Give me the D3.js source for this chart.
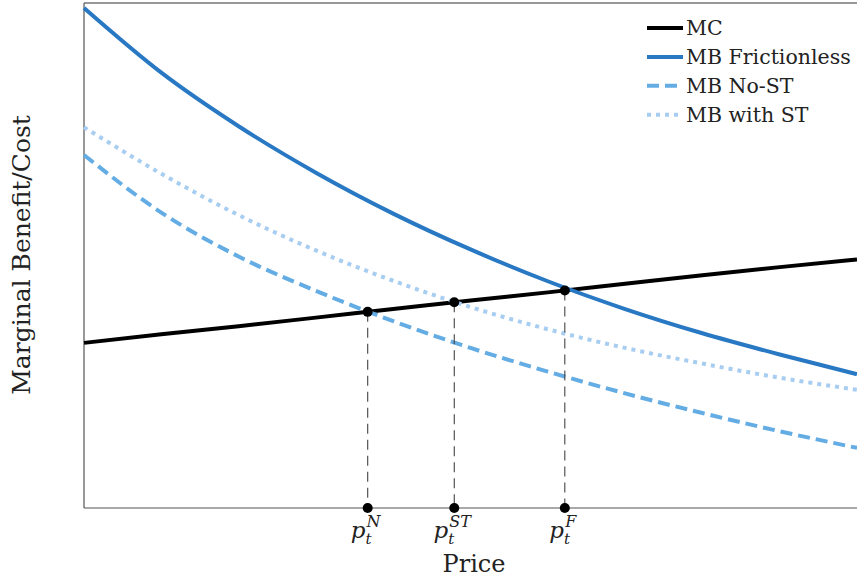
<!DOCTYPE html>
<html>
<head>
<meta charset="utf-8">
<script src="https://cdn.jsdelivr.net/npm/d3@7"></script>
<style>
  body { margin: 0; background: #fff; }
  svg { display: block; overflow: visible; }
  text { font-family: "DejaVu Serif", "Liberation Serif", serif; fill: #222; }
</style>
</head>
<body>
<svg width="857" height="581"></svg>
<script>
const svg = d3.select("svg");

// price grid (x) and curve values
const prices = [0, 1, 2, 3, 4, 5, 6, 7, 8, 9, 10];
const mc = [3.27, 3.44, 3.60, 3.77, 3.94, 4.11, 4.27, 4.44, 4.61, 4.77, 4.92];
const mbFrictionless = [9.90, 8.62, 7.56, 6.64, 5.83, 5.12, 4.49, 3.94, 3.46, 3.04, 2.65];
const mbNoST = [6.99, 5.85, 4.98, 4.30, 3.70, 3.17, 2.70, 2.27, 1.88, 1.52, 1.19];
const mbWithST = [7.54, 6.62, 5.80, 5.10, 4.50, 3.98, 3.54, 3.17, 2.86, 2.58, 2.34];

// equilibrium prices and their tick labels
const eqPrices = [3.67, 4.79, 6.22];
const eqLabels = ["N", "ST", "F"];

const series = [
    { name: "MC", values: mc, color: "#000000", dash: null },
    { name: "MB Frictionless", values: mbFrictionless, color: "#2878c3", dash: null },
    { name: "MB No-ST", values: mbNoST, color: "#64ace4", dash: "12,6" },
    { name: "MB with ST", values: mbWithST, color: "#a7cdf1", dash: "4,5" }
];

const margin = { top: 3, right: 0, bottom: 73, left: 84 };
const width = 857, height = 581;
const innerWidth = width - margin.left - margin.right;
const innerHeight = height - margin.top - margin.bottom;

const xScale = d3.scaleLinear().domain([0, 10]).range([0, innerWidth]);
const yScale = d3.scaleLinear().domain([0, 10]).range([innerHeight, 0]);

const g = svg.append("g")
    .attr("transform", `translate(${margin.left}, ${margin.top})`);

// axes box (left, top, bottom)
g.append("line").attr("x1", 0).attr("x2", innerWidth).attr("y1", 0).attr("y2", 0)
    .attr("stroke", "#333").attr("stroke-width", 1.2);
g.append("line").attr("x1", 0).attr("x2", innerWidth).attr("y1", innerHeight).attr("y2", innerHeight)
    .attr("stroke", "#555").attr("stroke-width", 1.2);
g.append("line").attr("x1", 0).attr("x2", 0).attr("y1", 0).attr("y2", innerHeight)
    .attr("stroke", "#555").attr("stroke-width", 1.2);

const line = d3.line()
    .x((d, i) => xScale(prices[i]))
    .y(d => yScale(d))
    .curve(d3.curveMonotoneX);

g.selectAll(".curve")
    .data(series)
    .enter().append("path")
    .attr("class", "curve")
    .attr("d", d => line(d.values))
    .attr("fill", "none")
    .attr("stroke", d => d.color)
    .attr("stroke-width", 4)
    .attr("stroke-dasharray", d => d.dash);

// MC value at a price
const mcAt = p => d3.scaleLinear().domain(prices).range(mc)(p);

// guide lines from equilibrium down to the axis
g.selectAll(".guide")
    .data(eqPrices)
    .enter().append("line")
    .attr("x1", d => xScale(d)).attr("x2", d => xScale(d))
    .attr("y1", d => yScale(mcAt(d))).attr("y2", innerHeight)
    .attr("stroke", "#444")
    .attr("stroke-width", 1.1)
    .attr("stroke-dasharray", "10,6");

g.selectAll(".eqdot")
    .data(eqPrices)
    .enter().append("circle")
    .attr("cx", d => xScale(d))
    .attr("cy", d => yScale(mcAt(d)))
    .attr("r", 5)
    .attr("fill", "#000");

g.selectAll(".axdot")
    .data(eqPrices)
    .enter().append("circle")
    .attr("cx", d => xScale(d))
    .attr("cy", innerHeight)
    .attr("r", 5)
    .attr("fill", "#000");

// tick labels p_t^X
const tick = g.selectAll(".ticklab")
    .data(eqPrices)
    .enter().append("text")
    .attr("x", d => xScale(d) - 2)
    .attr("y", innerHeight + 30)
    .attr("text-anchor", "middle")
    .style("font-style", "italic");
tick.append("tspan").style("font-size", "23px").text("p");
tick.append("tspan").style("font-size", "15px").attr("dy", 6).text("t");
tick.append("tspan").style("font-size", "16px").attr("dx", -5).attr("dy", -17)
    .text((d, i) => eqLabels[i]);

// axis labels
g.append("text")
    .attr("x", xScale(5) + 3.5)
    .attr("y", innerHeight + 64)
    .attr("text-anchor", "middle")
    .style("font-size", "24px")
    .text("Price");

g.append("text")
    .attr("transform", "rotate(-90)")
    .attr("x", -(255 - margin.top))
    .attr("y", -54)
    .attr("text-anchor", "middle")
    .style("font-size", "25px")
    .text("Marginal Benefit/Cost");

// legend
const legend = svg.append("g").attr("transform", "translate(647, 28)");
const rows = legend.selectAll("g")
    .data(series)
    .enter().append("g")
    .attr("transform", (d, i) => `translate(0, ${i * 28.9})`);
rows.append("line")
    .attr("x1", 0).attr("x2", 36)
    .attr("stroke", d => d.color)
    .attr("stroke-width", 4)
    .attr("stroke-dasharray", d => d.dash);
rows.append("text")
    .attr("x", 39)
    .attr("y", 7)
    .style("font-size", "20.5px")
    .text(d => d.name);
</script>
</body>
</html>
